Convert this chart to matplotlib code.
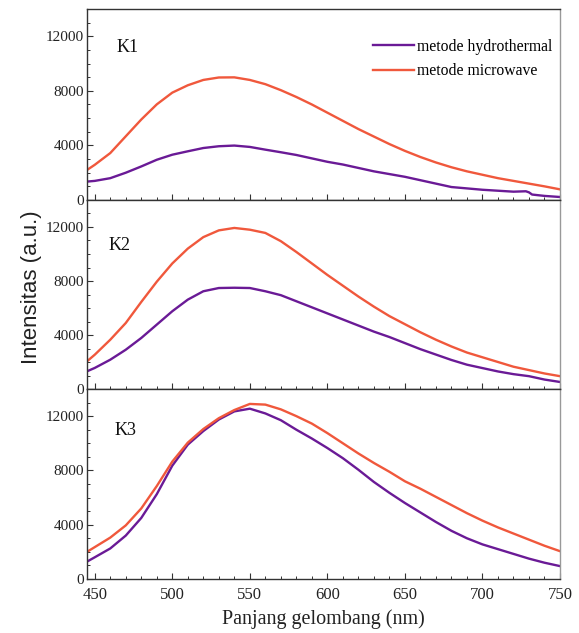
import matplotlib
matplotlib.use("Agg")
import matplotlib.pyplot as plt
from matplotlib.ticker import MultipleLocator

wavelength = [445, 450, 460, 470, 480, 490, 500, 510, 520, 530, 540, 550, 560, 570, 580,
              590, 600, 610, 620, 630, 640, 650, 660, 670, 680, 690, 700, 710, 720, 730, 740, 750]

k1_microwave = [2200, 2580, 3440, 4670, 5900, 7010, 7870, 8410, 8800, 8980, 8990, 8800, 8490, 8050, 7550,
                7000, 6400, 5800, 5200, 4650, 4100, 3600, 3150, 2750, 2400, 2100, 1850, 1600, 1400, 1200, 1000, 780]

wavelength_k1_hydro = [445, 450, 460, 470, 480, 490, 500, 510, 520, 530, 540, 550, 560, 570, 580,
                       590, 600, 610, 620, 630, 640, 650, 660, 670, 680, 690, 700, 710, 720, 728, 730, 732, 740, 750]
k1_hydro = [1350, 1400, 1600, 2000, 2460, 2950, 3320, 3570, 3810, 3940, 3990, 3890, 3690, 3500, 3300,
            3050, 2800, 2600, 2350, 2100, 1900, 1700, 1450, 1200, 950, 850, 750, 680, 610, 640, 560, 400, 300, 220]

k2_microwave = [2050, 2540, 3650, 4890, 6450, 7950, 9300, 10400, 11250, 11750, 11930, 11800, 11560, 10950, 10150,
                9300, 8450, 7650, 6850, 6100, 5400, 4800, 4200, 3650, 3150, 2700, 2350, 2000, 1650, 1400, 1150, 950]
k2_hydro = [1310, 1560, 2170, 2910, 3780, 4770, 5760, 6620, 7240, 7480, 7500, 7480, 7240, 6950, 6500,
            6050, 5600, 5150, 4700, 4250, 3850, 3400, 2950, 2550, 2150, 1800, 1550, 1300, 1100, 950, 700, 520]

k3_microwave = [2000, 2350, 3050, 3950, 5200, 6850, 8650, 10050, 11050, 11850, 12450, 12900, 12850, 12500, 12000,
                11450, 10750, 10000, 9250, 8550, 7900, 7200, 6650, 6050, 5450, 4850, 4300, 3800, 3350, 2900, 2450, 2050]
k3_hydro = [1280, 1600, 2250, 3200, 4500, 6250, 8350, 9900, 10900, 11750, 12350, 12550, 12200, 11700, 11000,
            10350, 9650, 8900, 8050, 7150, 6350, 5600, 4900, 4200, 3550, 3000, 2550, 2200, 1850, 1500, 1200, 950]

panel_labels = ["K1", "K2", "K3"]
series_names = ["metode hydrothermal", "metode microwave"]
x_ticks = [450, 500, 550, 600, 650, 700, 750]
y_ticks = [0, 4000, 8000, 12000]

panels = [((wavelength_k1_hydro, k1_hydro), (wavelength, k1_microwave)),
          ((wavelength, k2_hydro), (wavelength, k2_microwave)),
          ((wavelength, k3_hydro), (wavelength, k3_microwave))]

c_hydro = "#6a1a96"
c_micro = "#f0583c"

serif = "Liberation Serif"

fig = plt.figure(figsize=(5.79, 6.33), dpi=100)
W, H = 579, 633
left, right = 87, 560
bounds = [(9, 200), (200, 389), (389, 579)]
label_pos = [(0.063, 0.80), (0.046, 0.76), (0.059, 0.78)]

axes = []
for i, (top, bot) in enumerate(bounds):
    ax = fig.add_axes([left / W, 1 - bot / H, (right - left) / W, (bot - top) / H])
    (hx, hy), (mx, my) = panels[i]
    ax.plot(hx, hy, color=c_hydro, lw=1.7, label=series_names[0])
    ax.plot(mx, my, color=c_micro, lw=1.7, label=series_names[1])
    ax.set_xlim(445, 750)
    ax.set_ylim(0, 14000)
    ax.set_yticks(y_ticks)
    ax.yaxis.set_minor_locator(MultipleLocator(1000))
    ax.set_xticks(x_ticks)
    ax.xaxis.set_minor_locator(MultipleLocator(10))
    ax.tick_params(axis="both", which="both", direction="in", top=False, right=False)
    ax.tick_params(axis="both", which="major", length=4, width=0.8, color="#333333")
    ax.tick_params(axis="both", which="minor", length=2.5, width=0.7, color="#333333")
    for lab in ax.get_yticklabels():
        lab.set_fontfamily(serif)
        lab.set_fontsize(11)
        lab.set_color("#222222")
    if i < 2:
        ax.set_xticklabels([])
    else:
        for lab in ax.get_xticklabels():
            lab.set_fontfamily(serif)
            lab.set_fontsize(12)
            lab.set_color("#222222")
        ax.tick_params(axis="x", pad=6)
    ax.tick_params(axis="y", pad=2)
    for s in ["left", "bottom", "top"]:
        ax.spines[s].set_color("#333333")
        ax.spines[s].set_linewidth(1.0)
    ax.spines["right"].set_color("#999999")
    ax.spines["right"].set_linewidth(1.0)
    lx, ly = label_pos[i]
    ax.text(lx, ly, panel_labels[i], transform=ax.transAxes, fontfamily=serif,
            fontsize=13, color="#111111", va="center", ha="left")
    axes.append(ax)

leg = axes[0].legend(loc="upper right", bbox_to_anchor=(1.0, 0.885), frameon=False,
                     prop={"family": serif, "size": 11.3}, handlelength=2.6,
                     handletextpad=0.2, labelspacing=0.55, borderaxespad=0.1)

axes[2].set_xlabel("Panjang gelombang (nm)", fontfamily=serif, fontsize=14.5, color="#222222", labelpad=4)
fig.text(32 / W, 1 - 287 / H, "Intensitas (a.u.)", rotation=90, fontfamily="Liberation Sans",
         fontsize=16, color="#222222", ha="center", va="center")

fig.savefig("out.png", dpi=100)
